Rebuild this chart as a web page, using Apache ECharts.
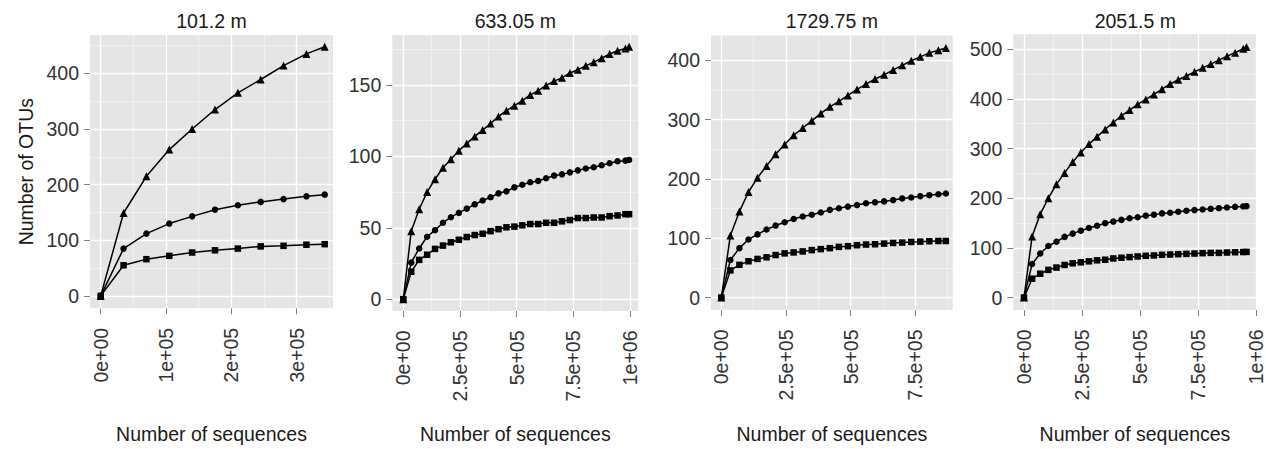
<!DOCTYPE html>
<html>
<head>
<meta charset="utf-8">
<title>Rarefaction curves</title>
<script src="https://cdn.jsdelivr.net/npm/echarts@6/dist/echarts.min.js"></script>
<style>
  html, body { margin: 0; padding: 0; background: #fff; }
  #chart { width: 1266px; height: 449px; }
</style>
</head>
<body>
<div id="chart"></div>
<script>
// ---- data ----
// 101.2 m
const xs101  = [0, 35000, 70000, 105000, 140000, 175000, 210000, 245000, 280000, 315000, 343000];
const tri101 = [0, 149, 215, 263, 300, 335, 365, 389, 414, 435, 448];
const cir101 = [0, 85, 112, 130, 143, 155, 163, 169, 174, 179, 182];
const sq101  = [0, 55, 66, 72, 78, 82, 85, 89, 90, 92, 93];

// 633.05 m
const xs633  = [0, 35000, 70000, 105000, 140000, 175000, 210000, 245000, 280000, 315000,
                350000, 385000, 420000, 455000, 490000, 525000, 560000, 595000, 630000, 665000,
                700000, 735000, 770000, 805000, 840000, 875000, 910000, 945000, 980000, 996000];
const tri633 = [0, 47.6, 63, 75, 84, 92, 98, 104, 109, 114, 118.4, 123, 128, 132, 135.5,
                139, 143, 146, 149.7, 152.7, 155, 158.4, 160.7, 163.4, 166, 168.7, 171.7, 174, 175.5, 176.7];
const cir633 = [0, 25.6, 35.5, 43.7, 48.3, 53.5, 57.4, 60.4, 63.4, 66.4, 69.1, 71.4, 74.1, 75.5, 78.3,
                80.1, 81.9, 82.8, 84.7, 86.5, 87.4, 88.8, 90.2, 91.5, 92.4, 93.8, 95.2, 96.6, 97, 97.5];
const sq633  = [0, 19.2, 27.5, 31.1, 35.2, 37.5, 39.8, 41.6, 43.5, 44.9, 45.8, 47.6, 49, 50.3, 50.8,
                51.7, 52.6, 52.6, 53.5, 53.5, 54.5, 55.4, 56.8, 56.8, 57.2, 57.2, 58.1, 58.6, 59.5, 59.5];

// 1729.75 m
const xs1729  = [0, 35000, 70000, 105000, 140000, 175000, 210000, 245000, 280000, 315000,
                 350000, 385000, 420000, 455000, 490000, 525000, 560000, 595000, 630000, 665000,
                 700000, 735000, 770000, 805000, 840000, 869000];
const tri1729 = [0, 104.8, 145, 178, 202, 222, 241.7, 258, 273.7, 286, 298, 310.6, 321.7,
                 331, 341, 351, 360, 368.6, 375.7, 384, 391.7, 399.4, 406, 412.7, 417, 421];
const cir1729 = [0, 63.4, 83.3, 98, 106.5, 114.8, 121.4, 127, 132.4, 136.8, 139.6, 143.4, 147.9,
                 150.6, 153.4, 156, 159, 160.6, 162.2, 164.4, 167.2, 168.8, 171, 172.7, 174.3, 175.4];
const sq1729  = [0, 45.8, 55.2, 61.2, 65.1, 67.9, 71.7, 74.5, 76.1, 77.8, 80, 81.7, 83.3,
                 85.5, 86.6, 88.3, 89.4, 89.9, 91, 92.1, 92.7, 93.8, 94.3, 94.9, 95.4, 95.4];

// 2051.5 m
const xs2051  = [0, 35000, 70000, 105000, 140000, 175000, 210000, 245000, 280000, 315000,
                 350000, 385000, 420000, 455000, 490000, 525000, 560000, 595000, 630000, 665000,
                 700000, 735000, 770000, 805000, 840000, 875000, 910000, 945000, 959000];
const tri2051 = [0, 123, 168, 200, 228, 251, 273, 292, 309, 324, 338.5, 352.5, 366, 377.5, 389,
                 399, 409, 419.5, 430, 438.5, 446, 454.5, 462.5, 470, 478, 486, 493, 501, 504.6];
const cir2051 = [0, 67.7, 88.7, 103.8, 112.4, 122.2, 128.8, 134.7, 140, 144.5, 149.8, 153, 156.4, 159.7, 161.6,
                 164.9, 166.9, 169.5, 170.8, 172.8, 174.8, 176.1, 177.4, 178.7, 180, 181.3, 182.7, 183.5, 184];
const sq2051  = [0, 38, 48, 55.8, 60.4, 65.7, 69, 71, 73, 75, 76.2, 78.8, 80.2, 81.5, 82.8,
                 84.1, 84.8, 86.1, 86.7, 87.4, 88, 88.7, 89.4, 90, 90, 90.7, 91.3, 91.7, 92];

// ---- ticks ----
const xTicks101 = [0, 100000, 200000, 300000];
const xLabels101 = ['0e+00', '1e+05', '2e+05', '3e+05'];
const xMinor101 = [50000, 150000, 250000, 350000];
const xTicks1e6 = [0, 250000, 500000, 750000, 1000000];
const xLabels1e6 = ['0e+00', '2.5e+05', '5e+05', '7.5e+05', '1e+06'];
const xMinor1e6 = [125000, 375000, 625000, 875000];
const yTicks101 = [0, 100, 200, 300, 400];
const yMinor101 = [50, 150, 250, 350, 450];
const yTicks633 = [0, 50, 100, 150];
const yMinor633 = [25, 75, 125, 175];
const yTicks1729 = [0, 100, 200, 300, 400];
const yMinor1729 = [50, 150, 250, 350];
const yTicks2051 = [0, 100, 200, 300, 400, 500];
const yMinor2051 = [50, 150, 250, 350, 450];

const panels = [
  { title: '101.2 m',   xs: xs101,  tri: tri101,  cir: cir101,  sq: sq101,
    xTicks: xTicks101, xLabels: xLabels101, xMinor: xMinor101, yTicks: yTicks101, yMinor: yMinor101 },
  { title: '633.05 m',  xs: xs633,  tri: tri633,  cir: cir633,  sq: sq633,
    xTicks: xTicks1e6, xLabels: xLabels1e6, xMinor: xMinor1e6, yTicks: yTicks633, yMinor: yMinor633 },
  { title: '1729.75 m', xs: xs1729, tri: tri1729, cir: cir1729, sq: sq1729,
    xTicks: xTicks1e6, xLabels: xLabels1e6, xMinor: xMinor1e6, yTicks: yTicks1729, yMinor: yMinor1729 },
  { title: '2051.5 m',  xs: xs2051, tri: tri2051, cir: cir2051, sq: sq2051,
    xTicks: xTicks1e6, xLabels: xLabels1e6, xMinor: xMinor1e6, yTicks: yTicks2051, yMinor: yMinor2051 }
];

// panel boxes (px) and axis limits
const boxes = [
  { left: 90,     top: 35,   width: 243,   height: 278.3, xMin: -16400, xMax: 355700,  yMin: -22.3, yMax: 469 },
  { left: 392.3,  top: 35,   width: 246,   height: 281,   xMin: -48500, xMax: 1036600, yMin: -8.3,  yMax: 185 },
  { left: 711,    top: 35.5, width: 241.7, height: 279.5, xMin: -40000, xMax: 895500,  yMin: -21,   yMax: 442 },
  { left: 1013.3, top: 34.3, width: 244,   height: 280.7, xMin: -46000, xMax: 1002600, yMin: -25,   yMax: 530 }
];

const FONT = "'Liberation Sans', Arial, sans-serif";
const FS = 19.5;
const PANEL_BG = '#e5e5e5';
const MINOR = '#f2f2f2';
const TICK = '#7f7f7f';
const LABEL = '#333333';

const chart = echarts.init(document.getElementById('chart'), null, { renderer: 'svg' });

const grid = [], xAxis = [], yAxis = [], series = [], title = [];
const n = panels.length;

function zip(xs, ys) {
  return xs.map((x, k) => [x, ys[k]]);
}

panels.forEach((p, i) => {
  const b = boxes[i];
  const bottom = b.top + b.height;

  grid.push({
    left: b.left, top: b.top, width: b.width, height: b.height,
    show: true, backgroundColor: PANEL_BG, borderWidth: 0, containLabel: false, z: 0
  });

  title.push({
    text: p.title,
    left: b.left + b.width / 2, top: 21,
    textAlign: 'center', textVerticalAlign: 'middle', padding: 0,
    textStyle: { fontFamily: FONT, fontSize: FS, fontWeight: 'normal', color: '#1a1a1a' }
  });

  // major axes
  xAxis[i] = {
    type: 'value', gridIndex: i, position: 'bottom', min: b.xMin, max: b.xMax, z: 2,
    axisLine: { show: false, onZero: false },
    axisTick: { show: true, length: 6, customValues: p.xTicks, lineStyle: { color: TICK, width: 1 } },
    axisLabel: {
      customValues: p.xTicks, rotate: 90, margin: 19.5,
      color: LABEL, fontFamily: FONT, fontSize: FS,
      formatter: v => { const k = p.xTicks.indexOf(v); return k >= 0 ? p.xLabels[k] : ''; }
    },
    splitLine: { show: true, lineStyle: { color: '#ffffff', width: 1.3 } },
    name: 'Number of sequences', nameLocation: 'middle', nameGap: 429 - bottom,
    nameTextStyle: { fontFamily: FONT, fontSize: FS, color: '#1a1a1a', verticalAlign: 'top' }
  };
  yAxis[i] = {
    type: 'value', gridIndex: i, position: 'left', min: b.yMin, max: b.yMax, z: 2,
    axisLine: { show: false, onZero: false },
    axisTick: { show: true, length: 6, customValues: p.yTicks, lineStyle: { color: TICK, width: 1 } },
    axisLabel: { customValues: p.yTicks, margin: 11, color: LABEL, fontFamily: FONT, fontSize: FS },
    splitLine: { show: true, lineStyle: { color: '#ffffff', width: 1.3 } }
  };
  if (i === 0) {
    yAxis[i].name = 'Number of OTUs';
    yAxis[i].nameLocation = 'middle';
    yAxis[i].nameGap = 54;
    yAxis[i].nameTextStyle = { fontFamily: FONT, fontSize: FS, color: '#1a1a1a' };
  }

  // minor grid lines
  xAxis[n + i] = {
    type: 'value', gridIndex: i, position: 'top', min: b.xMin, max: b.xMax, z: 1,
    axisLine: { show: false }, axisLabel: { show: false },
    axisTick: { show: false, customValues: p.xMinor },
    splitLine: { show: true, lineStyle: { color: MINOR, width: 0.8 } }
  };
  yAxis[n + i] = {
    type: 'value', gridIndex: i, position: 'right', min: b.yMin, max: b.yMax, z: 1,
    axisLine: { show: false }, axisLabel: { show: false },
    axisTick: { show: false, customValues: p.yMinor },
    splitLine: { show: true, lineStyle: { color: MINOR, width: 0.8 } }
  };

  const sets = [
    { name: 'squares',   ys: p.sq,  symbol: 'rect',     size: 6.5 },
    { name: 'circles',   ys: p.cir, symbol: 'circle',   size: 6.5 },
    { name: 'triangles', ys: p.tri, symbol: 'triangle', size: 8 }
  ];
  sets.forEach(s => {
    series.push({
      name: p.title + ' ' + s.name,
      type: 'line', xAxisIndex: i, yAxisIndex: i, z: 3,
      data: zip(p.xs, s.ys),
      symbol: s.symbol, symbolSize: s.size, showSymbol: true,
      lineStyle: { color: '#000', width: 1.5 },
      itemStyle: { color: '#000', borderWidth: 0 },
      silent: true
    });
  });
});

chart.setOption({
  animation: false,
  backgroundColor: '#ffffff',
  title: title,
  grid: grid,
  xAxis: xAxis,
  yAxis: yAxis,
  series: series
});

window.addEventListener('resize', () => chart.resize());
</script>
</body>
</html>
